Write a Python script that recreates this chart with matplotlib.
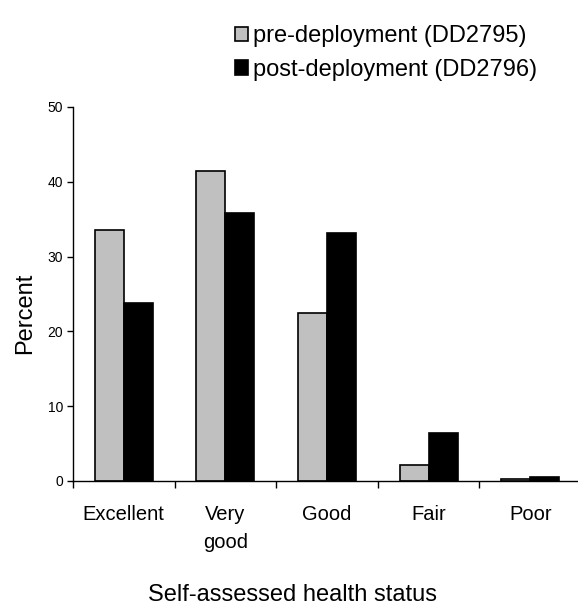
import numpy as np
import matplotlib
matplotlib.use("Agg")
import matplotlib.pyplot as plt

plt.rcParams['font.family'] = ['Liberation Sans', 'DejaVu Sans']

categories = ['Excellent', 'Very\ngood', 'Good', 'Fair', 'Poor']
pre = [33.6, 41.4, 22.4, 2.1, 0.3]
post = [23.8, 35.8, 33.1, 6.4, 0.6]
labels = ['pre-deployment (DD2795)', 'post-deployment (DD2796)']

fig = plt.figure(figsize=(5.78, 6.08), dpi=100)
ax = fig.add_axes([73/578, 1 - 481/608, 508/578, 374/608])

x = np.arange(len(categories))
w = 0.285
b1 = ax.bar(x - w/2, pre, w, color='#c0c0c0', edgecolor='black', linewidth=1.2, label=labels[0])
b2 = ax.bar(x + w/2, post, w, color='black', edgecolor='black', linewidth=1.2, label=labels[1])

ax.set_xlim(-0.5, len(categories) - 0.5)
ax.set_ylim(0, 50)
ax.set_yticks([0, 10, 20, 30, 40, 50])
ax.tick_params(axis='y', labelsize=10, length=4, width=1, pad=3, direction='out')

ax.set_xticks(x)
ax.set_xticklabels(categories, fontsize=14.5, linespacing=1.6)
ax.tick_params(axis='x', which='major', length=0, pad=17)
ax.set_xticks(np.arange(len(categories) + 1) - 0.5, minor=True)
ax.tick_params(axis='x', which='minor', length=5, width=1, direction='out')

for s in ['top', 'right']:
    ax.spines[s].set_visible(False)
for s in ['left', 'bottom']:
    ax.spines[s].set_linewidth(1)

fig.text(25/578, 1 - 313/608, 'Percent', rotation=90, ha='center', va='center', fontsize=17)
fig.text(292/578, 0.012, 'Self-assessed health status', ha='center', va='baseline', fontsize=17)

fig.legend(handles=[b1, b2], labels=labels, loc='upper left',
           bbox_to_anchor=(235/578, 1 - 25/608), frameon=False, fontsize=17,
           handlelength=0.55, handleheight=0.55, handletextpad=0.2,
           labelspacing=0.5, borderpad=0, borderaxespad=0)

fig.savefig('out.png', dpi=100)
